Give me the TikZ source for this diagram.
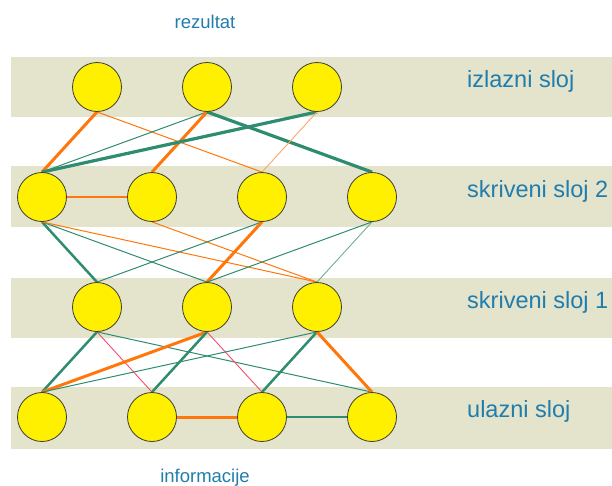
\documentclass[tikz,border=0pt]{standalone}
\usepackage{fontspec}
\setmainfont{Liberation Sans}
\usetikzlibrary{backgrounds}
\definecolor{bandfill}{RGB}{228,227,204}
\definecolor{neuron}{RGB}{255,240,0}
\definecolor{rimgray}{RGB}{60,60,50}
\definecolor{linkorange}{RGB}{255,119,10}
\definecolor{linklight}{RGB}{255,165,100}
\definecolor{linkgreen}{RGB}{46,140,112}
\definecolor{linkpale}{RGB}{110,175,150}
\definecolor{linkred}{RGB}{240,80,110}
\definecolor{labelblue}{RGB}{32,125,172}
\tikzset{
  neuronnode/.style={circle, draw=rimgray, line width=0.8pt, fill=neuron, minimum size=49pt, inner sep=0pt},
  band/.style={fill=bandfill, draw=none},
  layerlabel/.style={anchor=base west, text=labelblue, font=\fontsize{23.5}{26}\selectfont, inner sep=0pt},
  flowlabel/.style={anchor=base, text=labelblue, font=\fontsize{18.5}{21}\selectfont, inner sep=0pt},
  othick/.style={draw=linkorange, line width=3pt},
  othin/.style={draw=linkorange, line width=1pt},
  olight/.style={draw=linklight, line width=0.9pt},
  gthick/.style={draw=linkgreen, line width=3.2pt},
  gmid/.style={draw=linkgreen, line width=2.5pt},
  gthin/.style={draw=linkgreen, line width=1pt},
  gpale/.style={draw=linkpale, line width=0.9pt},
  rthin/.style={draw=linkred, line width=0.9pt},
  level/.style={line width=1.4pt}
}
\begin{document}
\begin{tikzpicture}[x=1pt, y=-1pt]
\useasboundingbox (0,0) rectangle (612,485);

% layer bands
\begin{scope}[on background layer]
  \fill[band] (11,57) rectangle (612,117);
  \fill[band] (11,166) rectangle (612,227);
  \fill[band] (11,278) rectangle (612,338);
  \fill[band] (11,387) rectangle (612,449);
\end{scope}

% neurons
\node[neuronnode] (o1) at (97,87) {};
\node[neuronnode] (o2) at (207,87) {};
\node[neuronnode] (o3) at (317,87) {};

\node[neuronnode] (h1) at (42,197) {};
\node[neuronnode] (h2) at (152,197) {};
\node[neuronnode] (h3) at (262,197) {};
\node[neuronnode] (h4) at (372,197) {};

\node[neuronnode] (g1) at (97,307) {};
\node[neuronnode] (g2) at (207,307) {};
\node[neuronnode] (g3) at (317,307) {};

\node[neuronnode] (i1) at (42,417) {};
\node[neuronnode] (i2) at (152,417) {};
\node[neuronnode] (i3) at (262,417) {};
\node[neuronnode] (i4) at (372,417) {};

% connections, kept behind the neurons
\begin{scope}[on background layer]
  % output layer -- hidden layer 2
  \draw[othick] (o1.south) -- (h1.north);
  \draw[othin]  (o1.south) -- (h3.north);
  \draw[gthin]  (o2.south) -- (h1.north);
  \draw[othick] (o2.south) -- (h2.north);
  \draw[gthick] (o2.south) -- (h4.north);
  \draw[gthick] (o3.south) -- (h1.north);
  \draw[olight] (o3.south) -- (h3.north);
  \draw[othin, level] (h1.east) -- (h2.west);
  % hidden layer 2 -- hidden layer 1
  \draw[gmid]   (h1.south) -- (g1.north);
  \draw[gthin]  (h1.south) -- (g2.north);
  \draw[othin]  (h1.south) -- (g3.north);
  \draw[othin]  (h2.south) -- (g3.north);
  \draw[gthin]  (h3.south) -- (g1.north);
  \draw[othick] (h3.south) -- (g2.north);
  \draw[gthin]  (h4.south) -- (g2.north);
  \draw[gpale]  (h4.south) -- (g3.north);
  % hidden layer 1 -- input layer
  \draw[gmid]   (g1.south) -- (i1.north);
  \draw[rthin]  (g1.south) -- (i2.north);
  \draw[gthin]  (g1.south) -- (i4.north);
  \draw[othick] (g2.south) -- (i1.north);
  \draw[gmid]   (g2.south) -- (i2.north);
  \draw[rthin]  (g2.south) -- (i3.north);
  \draw[gthin]  (g3.south) -- (i1.north);
  \draw[gmid]   (g3.south) -- (i3.north);
  \draw[othick] (g3.south) -- (i4.north);
  \draw[othick] (i2.east) -- (i3.west);
  \draw[gthin, level] (i3.east) -- (i4.west);
\end{scope}

% labels
\node[layerlabel] (lout) at (467,87) {izlazni sloj};
\node[layerlabel] (lh2) at (467,197) {skriveni sloj 2};
\node[layerlabel] (lh1) at (467,308) {skriveni sloj 1};
\node[layerlabel] (lin) at (467,417) {ulazni sloj};
\node[flowlabel] (res) at (205,28) {rezultat};
\node[flowlabel] (inf) at (205,482) {informacije};
\end{tikzpicture}
\end{document}
